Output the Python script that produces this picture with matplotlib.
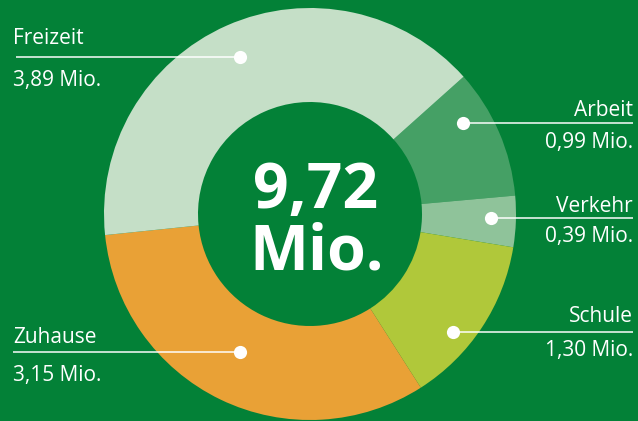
import matplotlib.pyplot as plt

# data
kategorien = ["Arbeit", "Verkehr", "Schule", "Zuhause", "Freizeit"]
werte = [0.99, 0.39, 1.30, 3.15, 3.89]
farben = ["#45a065", "#8fc39a", "#b0c83a", "#e9a136", "#c5dfc7"]
beschriftung = ["0,99 Mio.", "0,39 Mio.", "1,30 Mio.", "3,15 Mio.", "3,89 Mio."]
gesamt_text = "9,72"

BG = "#038137"
H = 421

fig = plt.figure(figsize=(6.38, 4.21), dpi=100)
fig.patch.set_facecolor(BG)
ax = fig.add_axes([0, 0, 1, 1])
ax.set_facecolor(BG)

cx, cy = 310, H - 214
ax.pie(werte, colors=farben, startangle=41.8, counterclock=False,
       center=(cx, cy), radius=206, frame=True,
       wedgeprops=dict(width=94, linewidth=0))
ax.set_xlim(0, 638)
ax.set_ylim(0, H)
ax.axis("off")

# label layout: (dot x, dot y, line end x, text x, align, name baseline, value baseline)
layout = {
    "Arbeit":   (463, 123, 633, 633, "right", 116, 148),
    "Verkehr":  (491, 218, 633, 633, "right", 212, 242),
    "Schule":   (453, 332, 633, 633, "right", 322, 356),
    "Zuhause":  (240, 352, 13, 13, "left", 343, 381),
    "Freizeit": (240, 57, 16, 13, "left", 44, 86),
}
font = "Open Sans"
for name, wert in zip(kategorien, beschriftung):
    dx, dy, lx, tx, ha, nb, vb = layout[name]
    ax.plot([dx, lx], [H - dy, H - dy], color="white", lw=1.2,
            alpha=0.9, solid_capstyle="butt")
    ax.plot(dx, H - dy, "o", color="white", ms=9.5, mec="none")
    ax.text(tx, H - nb, name, color="white", fontsize=15, family=font,
            ha=ha, va="baseline")
    ax.text(tx, H - vb, wert, color="white", fontsize=15, family=font,
            ha=ha, va="baseline")

ax.text(316, H - 208, gesamt_text, color="white", fontsize=45, family=font,
        fontweight="bold", ha="center", va="baseline")
ax.text(317, H - 270, "Mio.", color="white", fontsize=45, family=font,
        fontweight="bold", ha="center", va="baseline")

fig.savefig("out.png", dpi=100, facecolor=BG)
